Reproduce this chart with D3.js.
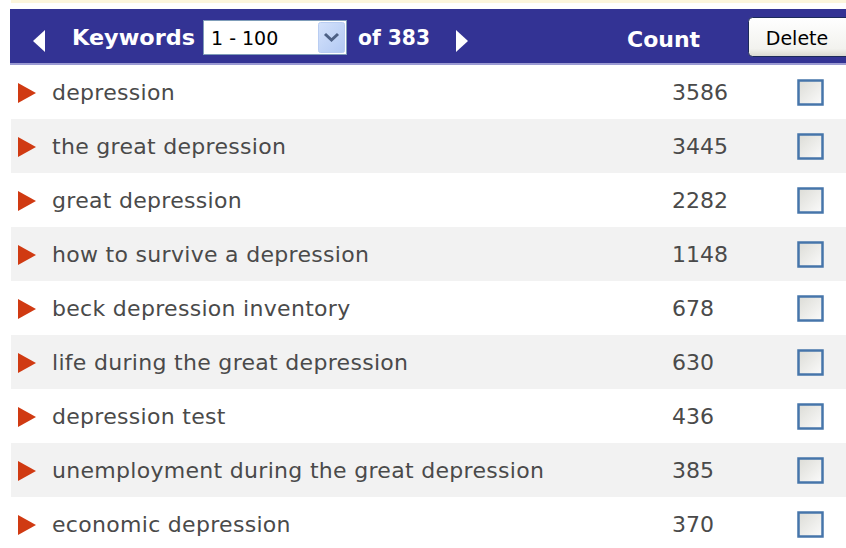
<!DOCTYPE html>
<html>
<head>
<meta charset="utf-8">
<script src="https://cdn.jsdelivr.net/npm/d3@7/dist/d3.min.js"></script>
<style>
  body { margin: 0; background: #fff; }
  svg { display: block; }
  .kw { font-family: "DejaVu Sans", Verdana, sans-serif; font-size: 22px; fill: #4a4a4a; letter-spacing: 0.3px; }
  .cnt { font-family: "DejaVu Sans", Verdana, sans-serif; font-size: 22px; fill: #4a4a4a; }
  .hd { font-family: "DejaVu Sans", Tahoma, sans-serif; font-weight: bold; font-size: 22px; fill: #fff; }
</style>
</head>
<body>
<div id="chart"></div>
<script>
const keywords = [
  "depression",
  "the great depression",
  "great depression",
  "how to survive a depression",
  "beck depression inventory",
  "life during the great depression",
  "depression test",
  "unemployment during the great depression",
  "economic depression"
];
const counts = [3586, 3445, 2282, 1148, 678, 630, 436, 385, 370];
const pageLabel = "1 - 100";
const totalLabel = "of 383";

const width = 846, height = 548;
const headerTop = 9, headerH = 56;
const rowsTop = 65, rowH = 54, left = 11;

const svg = d3.select("#chart").append("svg")
  .attr("width", width)
  .attr("height", height);

const defs = svg.append("defs");
const boxGrad = defs.append("linearGradient").attr("id", "boxGrad")
  .attr("x1", 0).attr("y1", 0).attr("x2", 1).attr("y2", 1);
boxGrad.append("stop").attr("offset", "0%").attr("stop-color", "#dcdcd6");
boxGrad.append("stop").attr("offset", "100%").attr("stop-color", "#fbfbfb");
const btnGrad = defs.append("linearGradient").attr("id", "btnGrad")
  .attr("x1", 0).attr("y1", 0).attr("x2", 0).attr("y2", 1);
btnGrad.append("stop").attr("offset", "0%").attr("stop-color", "#ffffff");
btnGrad.append("stop").attr("offset", "80%").attr("stop-color", "#f2f2ee");
btnGrad.append("stop").attr("offset", "100%").attr("stop-color", "#d8d8d0");
const ddGrad = defs.append("linearGradient").attr("id", "ddGrad")
  .attr("x1", 0).attr("y1", 0).attr("x2", 1).attr("y2", 1);
ddGrad.append("stop").attr("offset", "0%").attr("stop-color", "#d4e2fb");
ddGrad.append("stop").attr("offset", "100%").attr("stop-color", "#b2c9f3");

// pale strip at the top
svg.append("rect").attr("x", left).attr("y", 0).attr("width", width - left).attr("height", 3)
  .attr("fill", "#fcf6dc");

// header bar
const header = svg.append("g");
header.append("rect").attr("x", 10).attr("y", headerTop).attr("width", width - 10).attr("height", headerH)
  .attr("fill", "#333394");
header.append("rect").attr("x", 10).attr("y", headerTop + headerH - 2).attr("width", width - 10).attr("height", 2)
  .attr("fill", "#9a9ad2");

header.append("path").attr("d", "M45,30 L33,41 L45,52 Z").attr("fill", "#fff");
header.append("path").attr("d", "M456,30 L468,41 L456,52 Z").attr("fill", "#fff");
header.append("text").attr("class", "hd").attr("x", 72).attr("y", 45)
  .attr("textLength", 123).attr("lengthAdjust", "spacingAndGlyphs").text("Keywords");
header.append("text").attr("class", "hd").attr("x", 358).attr("y", 45)
  .attr("textLength", 72).attr("lengthAdjust", "spacingAndGlyphs").text(totalLabel);
header.append("text").attr("class", "hd").attr("x", 627).attr("y", 47).text("Count");

// page select
header.append("rect").attr("x", 203.5).attr("y", 20.5).attr("width", 143).attr("height", 34)
  .attr("fill", "#fff").attr("stroke", "#7f9db9");
header.append("rect").attr("x", 318.5).attr("y", 22.5).attr("width", 26).attr("height", 30).attr("rx", 2)
  .attr("fill", "url(#ddGrad)").attr("stroke", "#b9cdf2");
header.append("path").attr("d", "M325,34 L331.5,40 L338,34").attr("fill", "none")
  .attr("stroke", "#4d6185").attr("stroke-width", 3);
header.append("text").attr("x", 211).attr("y", 45)
  .style("font-family", "DejaVu Sans, Verdana, sans-serif").style("font-size", "19px").style("fill", "#000")
  .text(pageLabel);

// delete button
header.append("rect").attr("x", 748.5).attr("y", 17.5).attr("width", 110).attr("height", 39).attr("rx", 4)
  .attr("fill", "url(#btnGrad)").attr("stroke", "#1c2a5a");
header.append("text").attr("x", 797).attr("y", 45).attr("text-anchor", "middle")
  .style("font-family", "DejaVu Sans, Tahoma, sans-serif").style("font-size", "19px").style("fill", "#000")
  .text("Delete");

// rows
const y = d3.scaleBand()
  .domain(d3.range(keywords.length))
  .range([rowsTop, rowsTop + rowH * keywords.length]);

const rows = svg.append("g").selectAll("g")
  .data(keywords.map((k, i) => ({ keyword: k, count: counts[i], i })))
  .join("g")
  .attr("transform", d => `translate(0,${y(d.i)})`);

rows.append("rect")
  .attr("x", left).attr("y", 0)
  .attr("width", width - left).attr("height", y.bandwidth())
  .attr("fill", d => d.i % 2 ? "#f2f2f2" : "#fff");

rows.append("path")
  .attr("d", "M18,18 L36,28 L18,38 Z")
  .attr("fill", "#d03a12");

rows.append("text").attr("class", "kw")
  .attr("x", 52).attr("y", 35)
  .text(d => d.keyword);

rows.append("text").attr("class", "cnt")
  .attr("x", 672).attr("y", 35)
  .text(d => d.count);

rows.append("rect")
  .attr("x", 798.5).attr("y", 15.5).attr("width", 24).attr("height", 24)
  .attr("fill", "url(#boxGrad)").attr("stroke", "#4675aa").attr("stroke-width", 2.5);
</script>
</body>
</html>
